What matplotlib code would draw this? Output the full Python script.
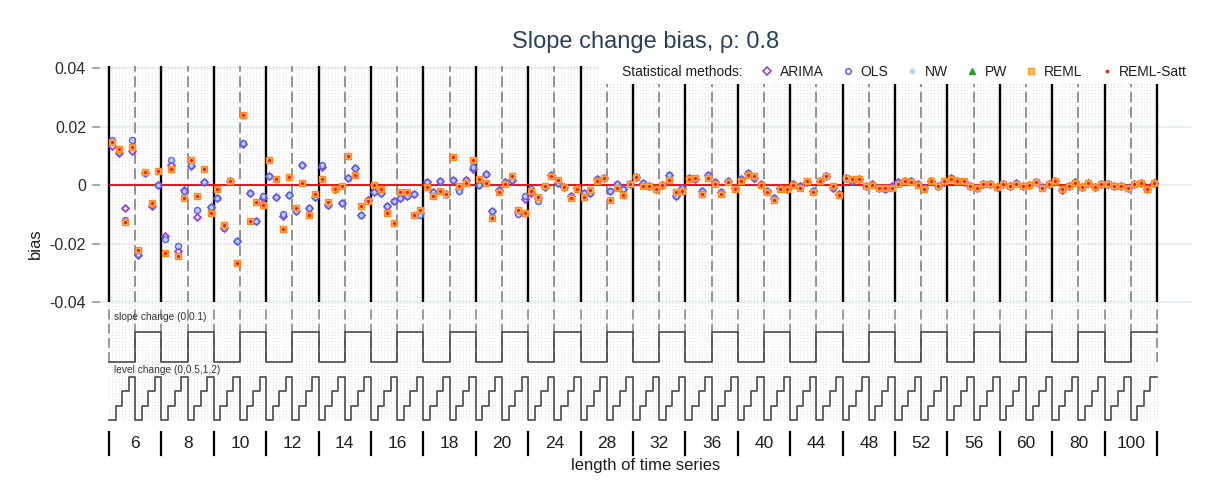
import numpy as np
import matplotlib
matplotlib.use("Agg")
import matplotlib.pyplot as plt
import matplotlib.transforms as mtransforms
from matplotlib.lines import Line2D

plt.rcParams['font.family'] = ['Liberation Sans', 'DejaVu Sans']

# ---------------- data ----------------
lengths = [6, 8, 10, 12, 14, 16, 18, 20, 24, 28, 32, 36, 40, 44, 48, 52, 56, 60, 80, 100]
slope_changes = [0, 0.1]
level_changes = [0, 0.5, 1, 2]

arima = [
    0.0132, 0.0110, -0.0079, 0.0115, -0.0238, 0.0040, -0.0073, 0.0000,
    -0.0173, 0.0068, -0.0224, -0.0018, 0.0066, -0.0111, 0.0009, -0.0075,
    -0.0045, -0.0146, 0.0015, -0.0192, 0.0140, -0.0027, -0.0123, -0.0046,
    0.0032, -0.0040, -0.0107, -0.0034, -0.0090, 0.0069, -0.0080, -0.0041,
    0.0062, -0.0067, -0.0012, -0.0063, 0.0023, 0.0058, -0.0101, -0.0052,
    -0.0023, -0.0026, -0.0071, -0.0055, -0.0045, -0.0036, -0.0032, -0.0097,
    0.0011, -0.0024, 0.0015, -0.0030, 0.0016, -0.0012, 0.0017, 0.0055,
    0.0000, 0.0036, -0.0089, -0.0016, 0.0010, 0.0017, -0.0092, -0.0049,
    -0.0026, -0.0046, -0.0007, 0.0034, 0.0008, -0.0006, -0.0037, -0.0009,
    -0.0028, -0.0029, 0.0019, 0.0023, -0.0021, 0.0005, -0.0012, 0.0005,
    0.0026, 0.0007, -0.0004, -0.0013, 0.0000, 0.0035, -0.0037, -0.0010,
    0.0025, 0.0020, -0.0020, 0.0035, 0.0010, -0.0025, 0.0015, -0.0010,
    0.0020, 0.0040, 0.0025, 0.0005, -0.0020, -0.0045, -0.0010, -0.0015,
    0.0005, -0.0005, 0.0010, -0.0020, 0.0015, 0.0032, -0.0010, -0.0030,
    0.0025, 0.0015, 0.0022, -0.0005, 0.0005, -0.0010, -0.0012, -0.0005,
    0.0010, 0.0012, 0.0015, 0.0005, -0.0010, 0.0015, -0.0002, 0.0010,
    0.0025, 0.0015, 0.0010, -0.0003, -0.0010, 0.0005, 0.0005, -0.0008,
    0.0005, -0.0005, 0.0008, -0.0005, 0.0000, 0.0010, -0.0008, 0.0005,
    0.0015, -0.0018, -0.0005, 0.0010, -0.0006, 0.0008, -0.0008, 0.0002,
    0.0002, -0.0002, -0.0002, -0.0011, 0.0003, 0.0008, -0.0013, 0.0008,
]

ols = [
    0.0153, 0.0112, -0.0120, 0.0153, -0.0235, 0.0040, -0.0070, 0.0000,
    -0.0184, 0.0085, -0.0207, -0.0020, 0.0068, -0.0087, 0.0009, -0.0075,
    -0.0045, -0.0146, 0.0015, -0.0192, 0.0142, -0.0027, -0.0123, -0.0036,
    0.0032, -0.0040, -0.0099, -0.0034, -0.0090, 0.0069, -0.0080, -0.0041,
    0.0070, -0.0067, -0.0012, -0.0063, 0.0023, 0.0058, -0.0101, -0.0052,
    -0.0023, -0.0026, -0.0071, -0.0055, -0.0045, -0.0036, -0.0032, -0.0102,
    0.0011, -0.0024, 0.0015, -0.0030, 0.0016, -0.0021, 0.0017, 0.0061,
    0.0000, 0.0036, -0.0089, -0.0016, 0.0010, 0.0017, -0.0100, -0.0037,
    -0.0012, -0.0054, -0.0007, 0.0034, 0.0008, -0.0006, -0.0037, -0.0009,
    -0.0028, -0.0029, 0.0019, 0.0023, -0.0021, 0.0005, -0.0012, 0.0005,
    0.0026, 0.0007, -0.0004, -0.0013, 0.0000, 0.0035, -0.0037, -0.0010,
    0.0025, 0.0020, -0.0020, 0.0035, 0.0010, -0.0025, 0.0015, -0.0010,
    0.0020, 0.0040, 0.0025, 0.0005, -0.0020, -0.0045, -0.0010, -0.0015,
    0.0005, -0.0005, 0.0010, -0.0020, 0.0015, 0.0032, -0.0010, -0.0030,
    0.0025, 0.0015, 0.0022, -0.0005, 0.0005, -0.0010, -0.0012, -0.0005,
    0.0010, 0.0012, 0.0015, 0.0005, -0.0010, 0.0015, -0.0002, 0.0010,
    0.0025, 0.0015, 0.0010, -0.0003, -0.0010, 0.0005, 0.0005, -0.0008,
    0.0005, -0.0005, 0.0008, -0.0005, 0.0000, 0.0010, -0.0008, 0.0005,
    0.0015, -0.0018, -0.0005, 0.0010, -0.0006, 0.0008, -0.0008, 0.0002,
    0.0002, -0.0002, -0.0002, -0.0011, 0.0003, 0.0008, -0.0013, 0.0008,
]

reml = [
    0.0146, 0.0123, -0.0128, 0.0129, -0.0221, 0.0046, -0.0062, 0.0047,
    -0.0233, 0.0056, -0.0243, -0.0044, 0.0084, -0.0036, 0.0054, -0.0097,
    -0.0015, -0.0137, 0.0015, -0.0266, 0.0240, -0.0123, -0.0059, -0.0067,
    0.0086, 0.0019, -0.0150, 0.0028, -0.0080, 0.0006, -0.0103, -0.0030,
    0.0019, -0.0058, -0.0012, -0.0005, 0.0098, 0.0033, -0.0071, -0.0055,
    0.0001, -0.0012, -0.0097, -0.0131, -0.0025, -0.0025, -0.0103, -0.0086,
    -0.0006, -0.0037, -0.0021, -0.0030, 0.0095, -0.0002, 0.0007, 0.0084,
    0.0021, 0.0008, -0.0112, -0.0024, 0.0002, 0.0030, -0.0087, -0.0097,
    -0.0019, -0.0040, -0.0003, 0.0030, 0.0016, -0.0006, -0.0043, -0.0012,
    -0.0042, -0.0018, 0.0014, 0.0023, -0.0050, -0.0009, -0.0034, 0.0005,
    0.0026, -0.0005, -0.0004, -0.0013, 0.0000, 0.0016, -0.0024, -0.0020,
    0.0020, 0.0025, -0.0030, 0.0025, 0.0005, -0.0030, 0.0010, -0.0015,
    0.0015, 0.0035, 0.0030, 0.0000, -0.0025, -0.0050, -0.0015, -0.0015,
    0.0000, -0.0010, 0.0015, -0.0025, 0.0015, 0.0030, -0.0005, -0.0035,
    0.0025, 0.0020, 0.0020, -0.0005, 0.0000, -0.0010, -0.0010, -0.0010,
    0.0005, 0.0015, 0.0010, 0.0000, -0.0012, 0.0015, -0.0005, 0.0012,
    0.0022, 0.0015, 0.0012, -0.0005, -0.0010, 0.0003, 0.0005, -0.0008,
    0.0005, -0.0003, 0.0005, -0.0005, 0.0000, 0.0010, -0.0010, 0.0005,
    0.0012, -0.0015, -0.0003, 0.0008, -0.0006, 0.0008, -0.0008, 0.0002,
    0.0002, -0.0002, -0.0002, -0.0011, 0.0003, 0.0008, -0.0013, 0.0008,
]

# NW shares the OLS point estimate, REML-Satt shares the REML estimate,
# PW points are hidden under the REML markers in the reference.
nw = list(ols)
pw = list(reml)
reml_satt = list(reml)

# ---------------- design ----------------
n_lev = len(level_changes)
n_sub = len(slope_changes) * n_lev
n_grp = len(lengths)
n = n_grp * n_sub
x = np.arange(n)
slope_seq = np.tile(np.repeat(slope_changes, n_lev), n_grp)
level_rank = np.tile(np.arange(n_lev), n_grp * len(slope_changes))

W, H = 1207, 486
fig = plt.figure(figsize=(W / 100, H / 100), dpi=100)
ax_l, ax_r, ax_t, ax_b = 100, 1192, 66, 422
ax = fig.add_axes([ax_l / W, 1 - ax_b / H, (ax_r - ax_l) / W, (ax_b - ax_t) / H])

k = 0.08 / 234.0          # bias units per pixel


def py(p):
    return 0.04 - (p - 68) * k


ppu = 1048 / n
ax.set_xlim(-0.5 - (109 - ax_l) / ppu, n - 0.5 + (ax_r - 1157) / ppu)
ax.set_ylim(py(ax_b), py(ax_t))

for s in ax.spines.values():
    s.set_visible(False)

yt = [-0.04, -0.02, 0, 0.02, 0.04]
ax.set_yticks(yt)
ax.set_yticklabels(['-0.04', '-0.02', '0', '0.02', '0.04'], fontsize=11.5, color='#2b2b2b')
ax.tick_params(axis='y', length=6, width=1.2, color='#9a9a9a', pad=4)
ax.set_xticks([])

for t in yt:
    ax.axhline(t, color='#e4ebee', lw=1.1, zorder=0)

# grid lines of nested loop plot
ax.vlines(np.arange(-0.5, n, 0.5), py(420), py(66), colors='#d2d2d2', lw=0.6,
          linestyles=(0, (1, 2.5)), zorder=1)
ax.vlines(np.arange(n_grp + 1) * n_sub - 0.5, py(302), py(66), colors='black', lw=1.7, zorder=2)
ax.vlines(np.arange(n_grp) * n_sub + n_sub / 2 - 0.5, py(302), py(66), colors='#8a8a8a', lw=1.3,
          linestyles=(0, (6, 2.5)), zorder=2)
ax.vlines(np.arange(0, n + 1, n_lev) - 0.5, py(361.7), py(305), colors='#8a8a8a', lw=1.2,
          linestyles=(0, (6, 2.5)), zorder=2)

ax.hlines(0, -0.5, n - 0.5, colors='#e3141b', lw=1.4, zorder=3)

# step lines for design parameters
edges = np.append(x - 0.5, n - 0.5)
slope_y = py(361.7) + np.asarray(slope_seq) / max(slope_changes) * (py(332) - py(361.7))
ax.step(edges, np.append(slope_y, slope_y[-1]), where='post', color='#4a4a4a', lw=1.2, zorder=3)
level_y = py(420) + level_rank / (n_lev - 1) * (py(376.7) - py(420))
ax.step(edges, np.append(level_y, level_y[-1]), where='post', color='#4a4a4a', lw=1.2, zorder=3)

ax.text(0.3, py(317), 'slope change (0,0.1)', fontsize=7.3, color='#333333', va='center', ha='left', zorder=4)
ax.text(0.3, py(370), 'level change (0,0.5,1,2)', fontsize=7.3, color='#333333', va='center', ha='left', zorder=4)

# markers
st = dict(ls='none')
ax.plot(x, pw, marker='^', ms=3.2, color='#2ca02c', zorder=4, **st)
ax.plot(x, arima, marker='D', ms=3.5, mfc='none', mec='#9b3fd3', mew=1.3, zorder=5, **st)
ax.plot(x, ols, marker='o', ms=4.2, mfc='none', mec='#5b5bf5', mew=1.1, zorder=6, **st)
ax.plot(x, nw, marker='o', ms=1.8, color='#a8d8f5', zorder=7, **st)
ax.plot(x, reml, marker='s', ms=4.0, mfc='#ffb264', mec='#ff8a1c', mew=1.0, zorder=8, **st)
ax.plot(x, reml_satt, marker='o', ms=2.3, color='#f01a1a', mec='none', zorder=9, **st)

# legend
handles = [
    Line2D([], [], ls='none'),
    Line2D([], [], ls='none', marker='D', ms=3.6, mfc='none', mec='#9b3fd3', mew=1.2),
    Line2D([], [], ls='none', marker='o', ms=4.0, mfc='none', mec='#5b5bf5', mew=1.1),
    Line2D([], [], ls='none', marker='o', ms=3.0, color='#a8d8f5'),
    Line2D([], [], ls='none', marker='^', ms=4.5, color='#2ca02c'),
    Line2D([], [], ls='none', marker='s', ms=4.5, mfc='#ffc27a', mec='#ff9a30', mew=1.0),
    Line2D([], [], ls='none', marker='o', ms=2.6, color='#f01a1a', mec='none'),
]
labels = ['Statistical methods:', 'ARIMA', 'OLS', 'NW', 'PW', 'REML', 'REML-Satt']
leg = ax.legend(handles, labels, ncol=7, loc='upper right', bbox_to_anchor=(ax_r / W, 1 - 60 / H),
                bbox_transform=fig.transFigure, fontsize=10, handlelength=0.8, handletextpad=0.5,
                columnspacing=1.35, borderpad=0.35, borderaxespad=0, frameon=True, fancybox=False)
fr = leg.get_frame()
fr.set_facecolor('white')
fr.set_edgecolor('none')
fr.set_alpha(1)
leg.set_zorder(20)
for t in leg.get_texts():
    t.set_color('#1e1e1e')

# group labels below
trans = mtransforms.blended_transform_factory(ax.transData, fig.transFigure)
for g, L in enumerate(lengths):
    ax.text(g * n_sub + (n_sub - 1) / 2, 1 - 444 / H, str(L), transform=trans, ha='center', va='center',
            fontsize=12.5, color='#1e1e1e', clip_on=False)
for b in np.arange(n_grp + 1) * n_sub - 0.5:
    ax.plot([b, b], [1 - 432 / H, 1 - 455 / H], transform=trans, color='black', lw=1.6, clip_on=False)

fig.text((ax_l + ax_r) / 2 / W, 1 - 465 / H, 'length of time series', ha='center', va='center',
         fontsize=12, color='#1e1e1e')
fig.text(35 / W, 1 - 244 / H, 'bias', rotation=90, ha='center', va='center', fontsize=12, color='#1e1e1e')
fig.text(646 / W, 1 - 42 / H, 'Slope change bias, ρ: 0.8', ha='center', va='center', fontsize=17,
         color='#2a3f5f')

fig.savefig('out.png', dpi=100, facecolor='white')
